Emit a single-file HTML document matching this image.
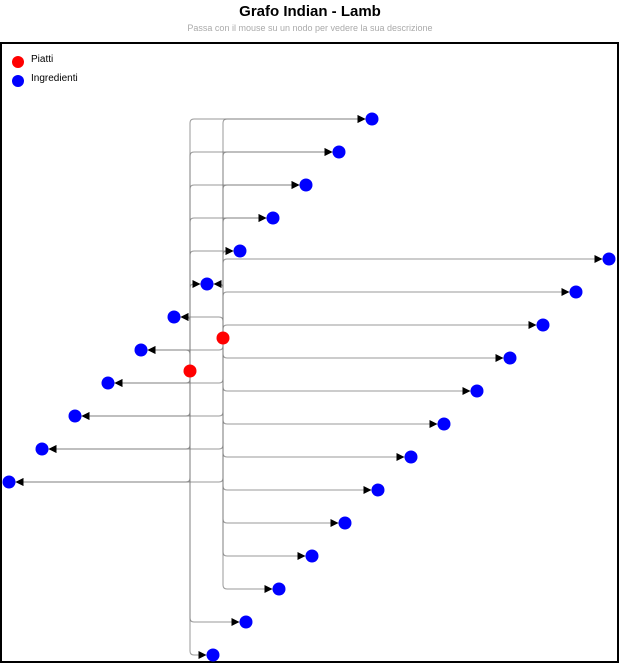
<!DOCTYPE html>
<html><head><meta charset="utf-8">
<style>
body{margin:0;background:#fff;font-family:"Liberation Sans",sans-serif;}
#wrap{position:relative;width:620px;height:666px;overflow:hidden;}
h1{position:absolute;top:3px;left:0;width:620px;margin:0;text-align:center;font-size:15px;font-weight:bold;color:#000;}
.sub{position:absolute;top:23px;left:0;width:620px;text-align:center;font-size:9px;color:#aaa;}
svg{position:absolute;left:0;top:0;}
</style></head>
<body>
<div id="wrap">
<h1>Grafo Indian - Lamb</h1>
<div class="sub">Passa con il mouse su un nodo per vedere la sua descrizione</div>
<svg id="g" width="620" height="666">
<defs><marker id="arr" viewBox="0 0 10 10" refX="10" refY="5" markerWidth="8" markerHeight="8" markerUnits="userSpaceOnUse" orient="auto"><path d="M0,0L10,5L0,10z" fill="#000"/></marker></defs>
<rect x="1" y="43" width="617" height="619" fill="none" stroke="#000" stroke-width="2"/>
<circle cx="18" cy="62" r="6" fill="red"/>
<text x="31" y="62" font-size="10" fill="#000">Piatti</text>
<circle cx="18" cy="81" r="6" fill="blue"/>
<text x="31" y="81" font-size="10" fill="#000">Ingredienti</text>
<g id="edges"></g><g id="nodes"></g>
</svg>
</div>
<script>
const dishX=[190,223];
const dishY=[371,338];
const ingX=[372,339,306,273,240,207,174,141,108,75,42,9,609,576,543,510,477,444,411,378,345,312,279,246,213];
const ingY=[119,152,185,218,251,284,317,350,383,416,449,482,259,292,325,358,391,424,457,490,523,556,589,622,655];
const edgeSrc=[0,0,0,0,0,0,0,0,0,0,0,0,0,0,1,1,1,1,1,1,1,1,1,1,1,1,1,1,1,1,1,1,1,1,1,1,1];
const edgeTgt=[0,1,2,3,4,5,6,7,8,9,10,11,23,24,0,1,2,3,4,5,6,7,8,9,10,11,12,13,14,15,16,17,18,19,20,21,22];
const NS='http://www.w3.org/2000/svg';
const eg=document.getElementById('edges'),ng=document.getElementById('nodes');
const R=6.5,C=4;
for(let i=0;i<edgeSrc.length;i++){
  const sx=dishX[edgeSrc[i]],sy=dishY[edgeSrc[i]],tx=ingX[edgeTgt[i]],ty=ingY[edgeTgt[i]];
  const dir=tx>sx?1:-1, vd=ty>sy?1:-1;
  const ex=tx-dir*R;
  const d=`M${sx},${sy}L${sx},${ty-vd*C}Q${sx},${ty} ${sx+dir*C},${ty}L${ex},${ty}`;
  const p=document.createElementNS(NS,'path');
  p.setAttribute('d',d);p.setAttribute('fill','none');p.setAttribute('stroke','#777');
  p.setAttribute('stroke-opacity','0.75');p.setAttribute('stroke-width','1');
  p.setAttribute('marker-end','url(#arr)');
  
  
  eg.appendChild(p);
}
for(let i=0;i<ingX.length;i++){
  const c=document.createElementNS(NS,'circle');
  c.setAttribute('cx',ingX[i]);c.setAttribute('cy',ingY[i]);c.setAttribute('r',R);c.setAttribute('fill','blue');
  
  
  ng.appendChild(c);
}
for(let i=0;i<dishX.length;i++){
  const c=document.createElementNS(NS,'circle');
  c.setAttribute('cx',dishX[i]);c.setAttribute('cy',dishY[i]);c.setAttribute('r',R);c.setAttribute('fill','red');
  
  
  ng.appendChild(c);
}
</script>
</body></html>
